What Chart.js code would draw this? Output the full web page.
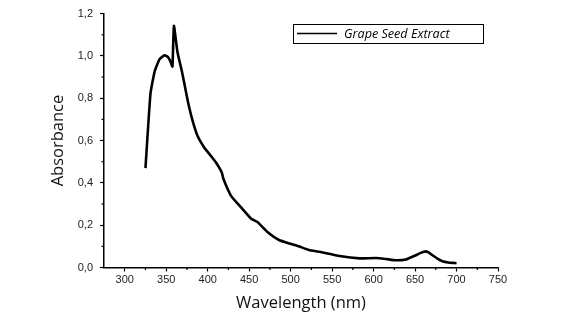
<!DOCTYPE html>
<html>
<head>
<meta charset="utf-8">
<script src="https://cdn.jsdelivr.net/npm/chart.js@4"></script>
<style>
  html, body { margin: 0; padding: 0; background: #fff; }
  #wrap { width: 578px; height: 323px; }
</style>
</head>
<body>
<div id="wrap"><canvas id="chart" width="578" height="323"></canvas></div>
<script>
const seriesLabel = "Grape Seed Extract"
const wavelength = [325, 331, 336, 342, 348, 352, 355, 357.5, 359.3, 363.5, 369, 373, 377, 382, 388, 396, 404, 410, 417, 419, 428, 440, 452, 460, 472, 486, 499, 510, 522, 535, 559, 583, 603, 615, 627, 639, 651, 656, 662, 666, 671, 677, 683, 690, 698, 700]
const absorbance = [0.47, 0.82, 0.925, 0.985, 1.003, 0.995, 0.975, 0.95, 1.142, 1.02, 0.925, 0.847, 0.769, 0.691, 0.62, 0.566, 0.527, 0.496, 0.449, 0.418, 0.34, 0.285, 0.232, 0.215, 0.168, 0.13, 0.113, 0.1, 0.083, 0.074, 0.054, 0.043, 0.045, 0.04, 0.034, 0.038, 0.058, 0.068, 0.076, 0.072, 0.058, 0.042, 0.03, 0.024, 0.021, 0.02]
const xTicks = [300, 350, 400, 450, 500, 550, 600, 650, 700, 750]
const yTicks = [0, 0.2, 0.4, 0.6, 0.8, 1.0, 1.2]

const points = wavelength.map((w, i) => ({ x: w, y: absorbance[i] }))

// minor ticks halfway between the labelled ones
const minorTicks = {
  id: "minorTicks",
  afterDraw(chart) {
    const { ctx, scales: { x, y } } = chart
    ctx.save()
    ctx.strokeStyle = "#000"
    ctx.lineWidth = 1.2
    for (let i = 0; i < xTicks.length - 1; i++) {
      const px = x.getPixelForValue((xTicks[i] + xTicks[i + 1]) / 2)
      ctx.beginPath()
      ctx.moveTo(px, x.top)
      ctx.lineTo(px, x.top + 2.5)
      ctx.stroke()
    }
    for (let i = 0; i < yTicks.length - 1; i++) {
      const py = y.getPixelForValue((yTicks[i] + yTicks[i + 1]) / 2)
      ctx.beginPath()
      ctx.moveTo(y.right, py)
      ctx.lineTo(y.right - 2.5, py)
      ctx.stroke()
    }
    ctx.restore()
  }
}

// boxed legend in the upper right
const boxLegend = {
  id: "boxLegend",
  afterDraw(chart) {
    const ctx = chart.ctx
    ctx.save()
    ctx.strokeStyle = "#000"
    ctx.lineWidth = 1
    ctx.strokeRect(293.5, 24.5, 190, 19)
    ctx.lineWidth = 1.3
    ctx.beginPath()
    ctx.moveTo(297, 33.5)
    ctx.lineTo(337, 33.5)
    ctx.stroke()
    ctx.fillStyle = "#000"
    ctx.font = "italic 12.6px 'Open Sans'"
    ctx.textBaseline = "middle"
    ctx.fillText(chart.data.datasets[0].label, 344, 34)
    ctx.restore()
  }
}

new Chart(document.getElementById("chart"), {
  type: "line",
  data: {
    datasets: [{
      label: seriesLabel,
      data: points,
      borderColor: "#000",
      borderWidth: 2.6,
      pointRadius: 0,
      tension: 0.15,
      fill: false
    }]
  },
  options: {
    responsive: false,
    animation: false,
    layout: { padding: { left: 48, right: 80, top: 11, bottom: 10 } },
    plugins: { legend: { display: false }, tooltip: { enabled: false } },
    scales: {
      x: {
        type: "linear",
        min: 275,
        max: 750,
        afterFit: (s) => { s.height = 45.5 },
        afterBuildTicks: (s) => { s.ticks = xTicks.map(v => ({ value: v })) },
        ticks: {
          includeBounds: false,
          color: "#222",
          padding: 2,
          font: { family: "'Liberation Sans'", size: 11 }
        },
        grid: { drawOnChartArea: false, tickLength: 4, tickColor: "#000", tickWidth: 1.2 },
        border: { color: "#000", width: 1.5 },
        title: {
          display: true,
          text: "Wavelength (nm)",
          color: "#111",
          padding: 0,
          font: { family: "'Open Sans'", size: 16.5 }
        }
      },
      y: {
        min: 0,
        max: 1.2,
        afterFit: (s) => { s.width = 56 },
        afterBuildTicks: (s) => { s.ticks = yTicks.map(v => ({ value: v })) },
        ticks: {
          color: "#222",
          padding: 7,
          font: { family: "'Liberation Sans'", size: 11 },
          callback: (v) => v.toFixed(1).replace(".", ",")
        },
        grid: { drawOnChartArea: false, tickLength: 4, tickColor: "#000", tickWidth: 1.2 },
        border: { color: "#000", width: 1.5 },
        title: {
          display: true,
          text: "Absorbance",
          color: "#111",
          padding: 0,
          font: { family: "'Open Sans'", size: 16.5 }
        }
      }
    }
  },
  plugins: [minorTicks, boxLegend]
})
</script>
</body>
</html>
